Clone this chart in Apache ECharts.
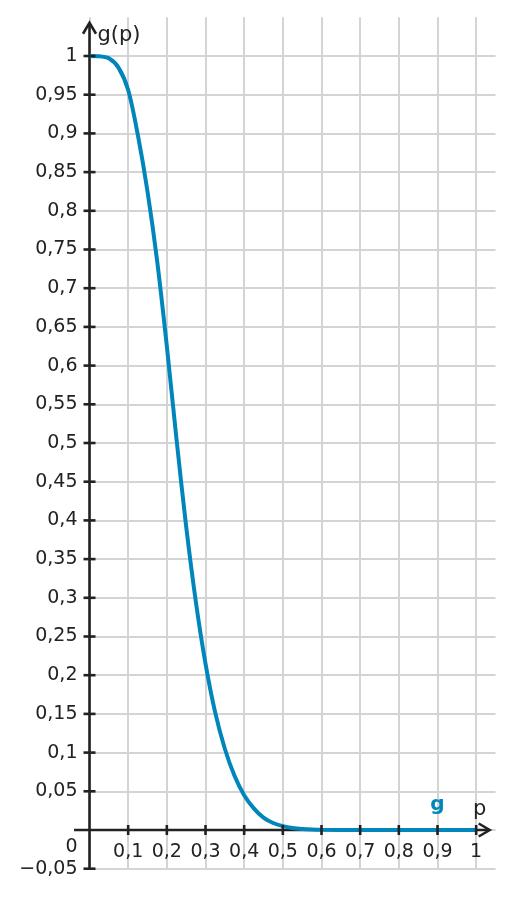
<!DOCTYPE html>
<html><head><meta charset="utf-8">
<script src="https://cdn.jsdelivr.net/npm/echarts@6/dist/echarts.min.js"></script>
<style>html,body{margin:0;padding:0;background:#fff}#c{width:514px;height:897px}</style>
</head><body><div id="c"></div>
<script>
// curve values
const pValues = [0, 0.025, 0.05, 0.075, 0.1, 0.125, 0.15, 0.175, 0.2, 0.225, 0.25, 0.275, 0.3, 0.325, 0.35, 0.375, 0.4, 0.425, 0.45, 0.475, 0.5, 0.525, 0.55, 0.575, 0.6, 0.7, 0.8, 0.9, 1.0];
const gValues = [1, 0.9997, 0.997, 0.985, 0.956, 0.898, 0.825, 0.735, 0.625, 0.505, 0.392, 0.295, 0.215, 0.152, 0.105, 0.070, 0.045, 0.028, 0.016, 0.009, 0.005, 0.0025, 0.0012, 0.0005, 0.0002, 0, 0, 0, 0];
const xTicks = [0.1, 0.2, 0.3, 0.4, 0.5, 0.6, 0.7, 0.8, 0.9, 1];
const yTicks = [-0.05, 0.05, 0.1, 0.15, 0.2, 0.25, 0.3, 0.35, 0.4, 0.45, 0.5, 0.55, 0.6, 0.65, 0.7, 0.75, 0.8, 0.85, 0.9, 0.95, 1];
const xRange = [0, 1.05];
const yRange = [-0.05, 1.05];
const xAxisExtent = [-0.04, 1.035];
const yAxisExtent = [-0.05, 1.043];
const seriesName = 'g';
const xTitle = 'p';
const yTitle = 'g(p)';
const originLabel = '0';

const FONT = 'DejaVu Sans';
const AX = '#222222';
const BLUE = '#0086bb';
const GRID = '#d4d4d4';
const LABEL_SIZE = 19;

function fmt(v) {
  const r = Math.round(v * 100) / 100;
  if (r === 0 || r > 1.001) return '';
  return String(r).replace('.', ',').replace('-', '\u2212');
}

const chart = echarts.init(document.getElementById('c'), null, {renderer: 'canvas'});
const option = {
  animation: false,
  backgroundColor: '#fff',
  grid: {left: 89.5, top: 17.3, width: 406, height: 851.4, containLabel: false},
  xAxis: {
    type: 'value', min: xRange[0], max: xRange[1], interval: 0.1,
    position: 'bottom', offset: 0,
    axisLine: {show: false, onZero: false},
    axisTick: {show: false},
    axisLabel: {
      margin: 12, color: AX, fontFamily: FONT, fontSize: LABEL_SIZE,
      showMaxLabel: false, showMinLabel: false,
      formatter: v => (v > 1.001 || v < 0.05) ? '' : fmt(v)
    },
    splitLine: {show: true, showMinLine: true, showMaxLine: false, lineStyle: {color: GRID, width: 2}}
  },
  yAxis: {
    type: 'value', min: yRange[0], max: yRange[1], interval: 0.05,
    axisLine: {show: false, onZero: false},
    axisTick: {show: false},
    axisLabel: {
      margin: 12, color: AX, fontFamily: FONT, fontSize: LABEL_SIZE,
      showMaxLabel: false,
      formatter: v => fmt(v)
    },
    splitLine: {show: true, showMinLine: true, showMaxLine: false, lineStyle: {color: GRID, width: 2}}
  },
  series: [{
    name: seriesName,
    type: 'line',
    data: pValues.map((p, i) => [p, gValues[i]]),
    showSymbol: false,
    smooth: 0.3,
    z: 5,
    lineStyle: {color: BLUE, width: 4}
  }]
};
chart.setOption(option);

const P = (x, y) => chart.convertToPixel({gridIndex: 0}, [x, y]);
const o = P(0, 0);
const bottomPx = P(0, yRange[0])[1];
// move the x axis labels up to the zero line
chart.setOption({xAxis: {offset: -(bottomPx - o[1])}});

const xl = P(xAxisExtent[0], 0), xr = P(xAxisExtent[1], 0);
const yb = P(0, yAxisExtent[0]), yt = P(0, yAxisExtent[1]);
const g = [];
const lineStyle = {stroke: AX, lineWidth: 2.6, lineCap: 'butt'};
g.push({type: 'line', z: 3, shape: {x1: xl[0], y1: xl[1], x2: xr[0] - 1, y2: xr[1]}, style: lineStyle});
g.push({type: 'line', z: 3, shape: {x1: yb[0], y1: yb[1], x2: yt[0], y2: yt[1] + 1}, style: lineStyle});
g.push({type: 'polyline', z: 10, shape: {points: [[xr[0] - 11, xr[1] - 6.5], [xr[0], xr[1]], [xr[0] - 11, xr[1] + 6.5]]},
  style: {stroke: AX, lineWidth: 2.6, fill: null, lineJoin: 'miter'}});
g.push({type: 'polyline', z: 10, shape: {points: [[yt[0] - 6.5, yt[1] + 11], [yt[0], yt[1]], [yt[0] + 6.5, yt[1] + 11]]},
  style: {stroke: AX, lineWidth: 2.6, fill: null, lineJoin: 'miter'}});
xTicks.forEach(t => {
  const q = P(t, 0);
  g.push({type: 'line', z: 10, shape: {x1: q[0], y1: q[1] - 5, x2: q[0], y2: q[1] + 5}, style: lineStyle});
});
yTicks.forEach(t => {
  const q = P(0, t);
  g.push({type: 'line', z: 10, shape: {x1: q[0] - 6, y1: q[1], x2: q[0] + 6, y2: q[1]}, style: lineStyle});
});
g.push({type: 'text', z: 10, x: o[0] - 18, y: o[1] + 20,
  style: {text: originLabel, fill: AX, font: LABEL_SIZE + 'px "' + FONT + '"', align: 'center', verticalAlign: 'middle'}});
g.push({type: 'text', z: 10, x: yt[0] + 8, y: yt[1] + 13,
  style: {text: yTitle, fill: AX, font: '21px "' + FONT + '"', align: 'left', verticalAlign: 'middle'}});
g.push({type: 'text', z: 10, x: xr[0] - 10, y: xr[1] - 20,
  style: {text: xTitle, fill: AX, font: '21px "' + FONT + '"', align: 'center', verticalAlign: 'middle'}});
const gl = P(0.9, 0);
g.push({type: 'text', z: 10, x: gl[0], y: gl[1] - 25,
  style: {text: seriesName, fill: BLUE, font: 'bold 20px "' + FONT + '"', align: 'center', verticalAlign: 'middle'}});
chart.setOption({graphic: {elements: g}});
</script>
</body></html>
